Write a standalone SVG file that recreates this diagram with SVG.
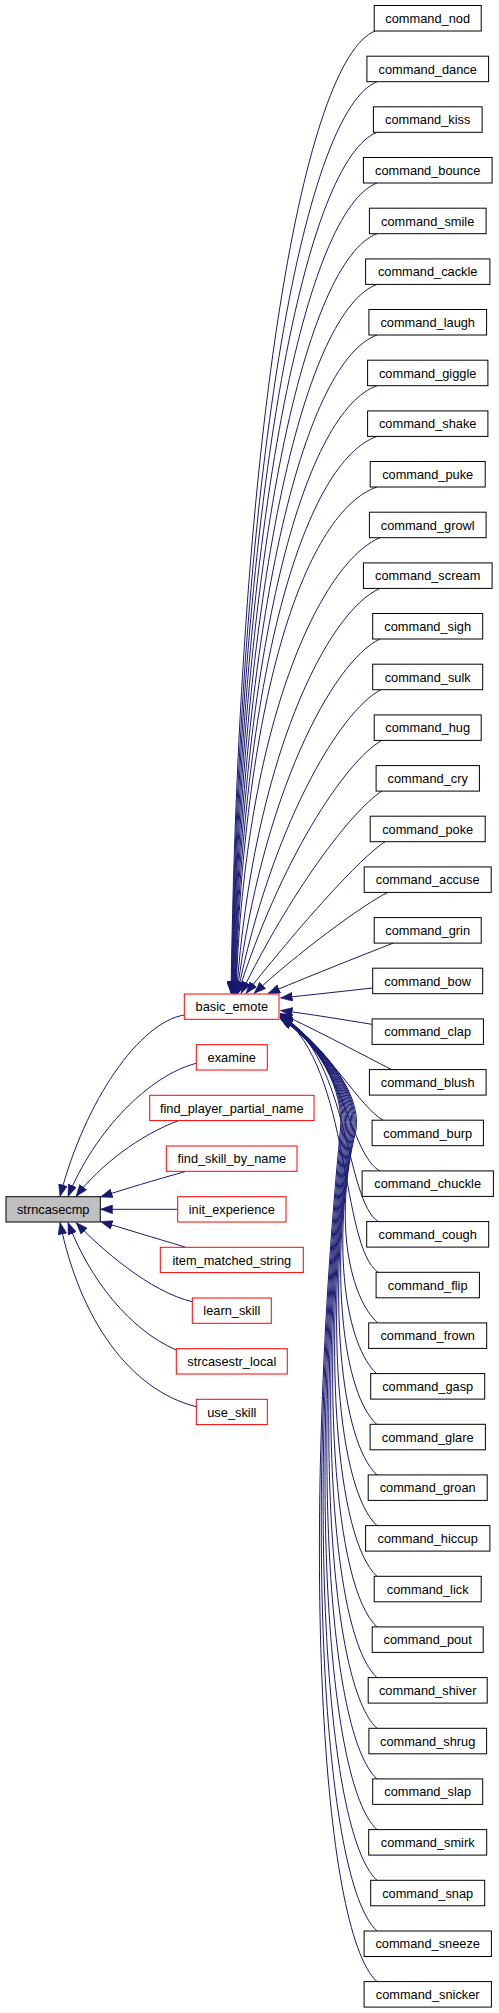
<svg xmlns="http://www.w3.org/2000/svg" width="499" height="2013" viewBox="0 0 499 2013">
<style>
.n rect{fill:#fff;stroke:#000;stroke-width:1}
.r rect{fill:#fff;stroke:#ff0000;stroke-width:1}
.g rect{fill:#bfbfbf;stroke:#000;stroke-width:1}
text{font-family:"Liberation Sans",Arial,sans-serif;font-size:12.8px;fill:#000;text-anchor:middle}
.e path{fill:none;stroke:#191970;stroke-width:1;marker-end:url(#ah)}
</style>
<defs>
<marker id="ah" markerUnits="userSpaceOnUse" viewBox="0 0 12 9" refX="12" refY="4.5" markerWidth="12" markerHeight="9" orient="auto">
<path d="M0,0 L12,4.5 L0,9 Z" fill="#191970" stroke="#191970" stroke-width="0.5"/>
</marker>
</defs>
<rect width="499" height="2013" fill="#fff"/>
<g class="e" id="edges">
<path d="M375,31 C305,59.6 239.6,416 231,993.5"/>
<path d="M377,81.7 C307,109.8 240.2,446.4 231.5,993.5"/>
<path d="M377,132.3 C307,159.9 240.7,476.8 232,993.5"/>
<path d="M377,183 C307,210.1 241.2,507.2 232.5,993.5"/>
<path d="M377,233.7 C307,260.3 241.6,537.6 233,993.5"/>
<path d="M377,284.4 C307,310.5 242.1,568 233.5,993.5"/>
<path d="M377,335 C307,360.6 242.6,598.4 234,993.5"/>
<path d="M377,385.7 C307,410.8 243,628.8 234.5,993.5"/>
<path d="M377,436.4 C307,461 243.5,659.2 235,993.5"/>
<path d="M377,487 C307,511.1 244,689.6 235.5,993.5"/>
<path d="M380,537.7 C322.4,561.3 244.6,720 236,993.5"/>
<path d="M380,588.4 C327.5,611.4 253.3,758.5 236.5,993.5"/>
<path d="M380,639 C332.5,661.5 261.9,794.6 237,993.5"/>
<path d="M381,689.7 C338.6,711.7 270.8,829.1 237.5,993.5"/>
<path d="M381.7,740.4 C344.4,761.9 279.7,861.6 238,993.5"/>
<path d="M382,791 C350,812 290,893 241,993.5"/>
<path d="M385,841.7 C360,858 300,925 246,993.5"/>
<path d="M388,892.4 C365,903 295,955 254,993.5"/>
<path d="M393.3,943.1 C360,956 300,980 268,993.5"/>
<path d="M372.7,988 C345,991 310,995 280.5,998"/>
<path d="M372,1024.3 C345,1020 310,1014 280.5,1010.5"/>
<path d="M391.7,1069.6 C365,1056 320,1032 280.5,1013.5"/>
<path d="M383.3,1120.2 C360,1108 330,1050 280.5,1014"/>
<path d="M380,1171 C350,1155 345,1060 280.5,1014"/>
<path d="M378.3,1221.6 C345,1200 350,1060 280.5,1014.3"/>
<path d="M378,1272.3 C340,1245 352,1070 280.5,1014.6"/>
<path d="M377.7,1322.9 C351,1298.6 332.5,1224.5 356,1130 C362,1090 318,1042 280.5,1014.9"/>
<path d="M376.7,1373.6 C346.7,1346.3 330,1249.4 354.8,1130 C360.8,1090 318,1042 280.5,1015.2"/>
<path d="M376.7,1424.3 C343.8,1394.3 327.5,1274.2 353.6,1130 C359.6,1090 318,1042 280.5,1015.5"/>
<path d="M377,1474.9 C341.4,1442.5 325,1299 352.4,1130 C358.4,1090 318,1042 280.5,1015.8"/>
<path d="M377,1525.6 C338.8,1490.8 322.5,1323.8 351.2,1130 C357.1,1090 318,1042 280.5,1016.1"/>
<path d="M377,1576.3 C336.5,1539.4 320,1348.7 350,1130 C355.5,1090 318,1042 280.5,1016.4"/>
<path d="M377,1626.9 C334.2,1587.9 317.5,1373.5 348.8,1130 C353.9,1090 318,1042 280.5,1016.7"/>
<path d="M377,1677.6 C332.1,1636.7 315,1398.3 347.6,1130 C352.5,1090 318,1042 280.5,1017"/>
<path d="M377,1728.3 C330.1,1685.6 312.5,1423.2 346.4,1130 C351,1090 318,1042 280.5,1017.3"/>
<path d="M377,1778.9 C328.1,1734.4 310,1448 345.2,1130 C349.6,1090 318,1042 280.5,1017.6"/>
<path d="M377,1829.6 C326.3,1783.4 307.5,1472.8 344,1130 C348.3,1090 318,1042 280.5,1017.9"/>
<path d="M377,1880.3 C324.4,1832.4 305,1497.6 342.8,1130 C346.9,1090 318,1042 280.5,1018.2"/>
<path d="M377,1931 C322.7,1881.5 302.5,1522.5 341.6,1130 C345.6,1090 318,1042 280.5,1018.5"/>
<path d="M377,1981.6 C321,1930.6 300,1547.3 340.4,1130 C344.3,1090 318,1042 280.5,1018.8"/>
<path d="M184.3,1015 C140,1022 85,1100 60,1196.5"/>
<path d="M196.3,1063.3 C150,1075 95,1130 68,1196.5"/>
<path d="M178.3,1120.7 C140,1135 100,1165 76,1196.5"/>
<path d="M185,1171.7 C155,1180 125,1189 100.5,1197"/>
<path d="M177.7,1209.3 L100.5,1209.3"/>
<path d="M185,1247 C155,1238 125,1229 100.5,1221.5"/>
<path d="M192.3,1301.7 C150,1292 100,1248 76,1222.5"/>
<path d="M176.3,1350 C130,1330 90,1280 68,1222.5"/>
<path d="M196.3,1406.7 C130,1390 80,1320 60,1222.5"/>
</g>
<g class="g" id="strncasecmp"><rect x="6" y="1196.7" width="94.3" height="25.3"/><text x="53.2" y="1214">strncasecmp</text></g>
<g class="r" id="basic_emote"><rect x="184.3" y="994" width="94.7" height="25.3"/><text x="231.8" y="1011.3">basic_emote</text></g>
<g class="r" id="examine"><rect x="196.3" y="1044.7" width="71" height="25.3"/><text x="231.8" y="1062">examine</text></g>
<g class="r" id="find_player_partial_name"><rect x="149.7" y="1095.3" width="164.3" height="25.3"/><text x="231.8" y="1112.6">find_player_partial_name</text></g>
<g class="r" id="find_skill_by_name"><rect x="166.3" y="1146" width="130.7" height="25.3"/><text x="231.8" y="1163.3">find_skill_by_name</text></g>
<g class="r" id="init_experience"><rect x="177.7" y="1196.7" width="108.3" height="25.3"/><text x="231.8" y="1214">init_experience</text></g>
<g class="r" id="item_matched_string"><rect x="160.3" y="1247.3" width="143" height="25.3"/><text x="231.8" y="1264.6">item_matched_string</text></g>
<g class="r" id="learn_skill"><rect x="192.3" y="1298" width="79" height="25.3"/><text x="231.8" y="1315.3">learn_skill</text></g>
<g class="r" id="strcasestr_local"><rect x="176.3" y="1348.7" width="111" height="25.3"/><text x="231.8" y="1366">strcasestr_local</text></g>
<g class="r" id="use_skill"><rect x="196.3" y="1399.3" width="71" height="25.3"/><text x="231.8" y="1416.6">use_skill</text></g>
<g class="n" id="command_nod"><rect x="374.2" y="5.5" width="107" height="25.5"/><text x="427.7" y="22.8">command_nod</text></g>
<g class="n" id="command_dance"><rect x="366.9" y="56.2" width="121.7" height="25.5"/><text x="427.7" y="73.5">command_dance</text></g>
<g class="n" id="command_kiss"><rect x="373.4" y="106.8" width="108.7" height="25.5"/><text x="427.7" y="124.1">command_kiss</text></g>
<g class="n" id="command_bounce"><rect x="363.4" y="157.5" width="128.7" height="25.5"/><text x="427.7" y="174.8">command_bounce</text></g>
<g class="n" id="command_smile"><rect x="369.4" y="208.2" width="116.7" height="25.5"/><text x="427.7" y="225.5">command_smile</text></g>
<g class="n" id="command_cackle"><rect x="365.6" y="258.9" width="124.3" height="25.5"/><text x="427.7" y="276.2">command_cackle</text></g>
<g class="n" id="command_laugh"><rect x="368.9" y="309.5" width="117.7" height="25.5"/><text x="427.7" y="326.8">command_laugh</text></g>
<g class="n" id="command_giggle"><rect x="367.6" y="360.2" width="120.3" height="25.5"/><text x="427.7" y="377.5">command_giggle</text></g>
<g class="n" id="command_shake"><rect x="367.6" y="410.9" width="120.3" height="25.5"/><text x="427.7" y="428.2">command_shake</text></g>
<g class="n" id="command_puke"><rect x="370.2" y="461.5" width="115" height="25.5"/><text x="427.7" y="478.8">command_puke</text></g>
<g class="n" id="command_growl"><rect x="369.4" y="512.2" width="116.7" height="25.5"/><text x="427.7" y="529.5">command_growl</text></g>
<g class="n" id="command_scream"><rect x="363.4" y="562.9" width="128.7" height="25.5"/><text x="427.7" y="580.2">command_scream</text></g>
<g class="n" id="command_sigh"><rect x="372.7" y="613.5" width="110" height="25.5"/><text x="427.7" y="630.8">command_sigh</text></g>
<g class="n" id="command_sulk"><rect x="372.7" y="664.2" width="110" height="25.5"/><text x="427.7" y="681.5">command_sulk</text></g>
<g class="n" id="command_hug"><rect x="374.2" y="714.9" width="107" height="25.5"/><text x="427.7" y="732.2">command_hug</text></g>
<g class="n" id="command_cry"><rect x="376.1" y="765.6" width="103.3" height="25.5"/><text x="427.7" y="782.9">command_cry</text></g>
<g class="n" id="command_poke"><rect x="370.2" y="816.2" width="115" height="25.5"/><text x="427.7" y="833.5">command_poke</text></g>
<g class="n" id="command_accuse"><rect x="364.2" y="866.9" width="127" height="25.5"/><text x="427.7" y="884.2">command_accuse</text></g>
<g class="n" id="command_grin"><rect x="374.2" y="917.6" width="107" height="25.5"/><text x="427.7" y="934.9">command_grin</text></g>
<g class="n" id="command_bow"><rect x="372.7" y="968.2" width="110" height="25.5"/><text x="427.7" y="985.5">command_bow</text></g>
<g class="n" id="command_clap"><rect x="372.1" y="1018.9" width="111.3" height="25.5"/><text x="427.7" y="1036.2">command_clap</text></g>
<g class="n" id="command_blush"><rect x="369.4" y="1069.6" width="116.7" height="25.5"/><text x="427.7" y="1086.9">command_blush</text></g>
<g class="n" id="command_burp"><rect x="372.1" y="1120.2" width="111.3" height="25.5"/><text x="427.7" y="1137.5">command_burp</text></g>
<g class="n" id="command_chuckle"><rect x="362.1" y="1170.9" width="131.3" height="25.5"/><text x="427.7" y="1188.2">command_chuckle</text></g>
<g class="n" id="command_cough"><rect x="366.7" y="1221.6" width="122" height="25.5"/><text x="427.7" y="1238.9">command_cough</text></g>
<g class="n" id="command_flip"><rect x="376.1" y="1272.3" width="103.3" height="25.5"/><text x="427.7" y="1289.6">command_flip</text></g>
<g class="n" id="command_frown"><rect x="368.7" y="1322.9" width="118" height="25.5"/><text x="427.7" y="1340.2">command_frown</text></g>
<g class="n" id="command_gasp"><rect x="370.7" y="1373.6" width="114" height="25.5"/><text x="427.7" y="1390.9">command_gasp</text></g>
<g class="n" id="command_glare"><rect x="370.1" y="1424.3" width="115.3" height="25.5"/><text x="427.7" y="1441.6">command_glare</text></g>
<g class="n" id="command_groan"><rect x="368.2" y="1474.9" width="119" height="25.5"/><text x="427.7" y="1492.2">command_groan</text></g>
<g class="n" id="command_hiccup"><rect x="365.6" y="1525.6" width="124.3" height="25.5"/><text x="427.7" y="1542.9">command_hiccup</text></g>
<g class="n" id="command_lick"><rect x="374.2" y="1576.3" width="107" height="25.5"/><text x="427.7" y="1593.6">command_lick</text></g>
<g class="n" id="command_pout"><rect x="372.2" y="1626.9" width="111" height="25.5"/><text x="427.7" y="1644.2">command_pout</text></g>
<g class="n" id="command_shiver"><rect x="368.2" y="1677.6" width="119" height="25.5"/><text x="427.7" y="1694.9">command_shiver</text></g>
<g class="n" id="command_shrug"><rect x="368.9" y="1728.3" width="117.7" height="25.5"/><text x="427.7" y="1745.6">command_shrug</text></g>
<g class="n" id="command_slap"><rect x="372.7" y="1778.9" width="110" height="25.5"/><text x="427.7" y="1796.2">command_slap</text></g>
<g class="n" id="command_smirk"><rect x="368.7" y="1829.6" width="118" height="25.5"/><text x="427.7" y="1846.9">command_smirk</text></g>
<g class="n" id="command_snap"><rect x="370.7" y="1880.3" width="114" height="25.5"/><text x="427.7" y="1897.6">command_snap</text></g>
<g class="n" id="command_sneeze"><rect x="364.1" y="1931" width="127.3" height="25.5"/><text x="427.7" y="1948.3">command_sneeze</text></g>
<g class="n" id="command_snicker"><rect x="364.1" y="1981.6" width="127.3" height="25.5"/><text x="427.7" y="1998.9">command_snicker</text></g>
</svg>
